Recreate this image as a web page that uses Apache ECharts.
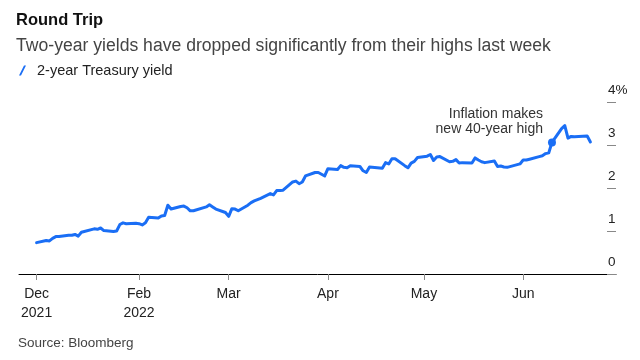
<!DOCTYPE html>
<html>
<head>
<meta charset="utf-8">
<script src="https://cdn.jsdelivr.net/npm/echarts@6/dist/echarts.min.js"></script>
<style>html,body{margin:0;padding:0;background:#fff}#c{width:640px;height:360px}</style>
</head>
<body>
<div id="c"></div>
<script>
const dates = [
 '2021-12-31',
 '2022-01-03','2022-01-04','2022-01-05','2022-01-06','2022-01-07','2022-01-10','2022-01-11','2022-01-12','2022-01-13','2022-01-14',
 '2022-01-18','2022-01-19','2022-01-20','2022-01-21','2022-01-24','2022-01-25','2022-01-26','2022-01-27','2022-01-28','2022-01-31',
 '2022-02-01','2022-02-02','2022-02-03','2022-02-04','2022-02-07','2022-02-08','2022-02-09','2022-02-10','2022-02-11','2022-02-14',
 '2022-02-15','2022-02-16','2022-02-17','2022-02-18','2022-02-22','2022-02-23','2022-02-24','2022-02-25','2022-02-28',
 '2022-03-01','2022-03-02','2022-03-03','2022-03-04','2022-03-07','2022-03-08','2022-03-09','2022-03-10','2022-03-11','2022-03-14',
 '2022-03-15','2022-03-16','2022-03-17','2022-03-18','2022-03-21','2022-03-22','2022-03-23','2022-03-24','2022-03-25','2022-03-28',
 '2022-03-29','2022-03-30','2022-03-31',
 '2022-04-01','2022-04-04','2022-04-05','2022-04-06','2022-04-07','2022-04-08','2022-04-11','2022-04-12','2022-04-13','2022-04-14',
 '2022-04-18','2022-04-19','2022-04-20','2022-04-21','2022-04-22','2022-04-25','2022-04-26','2022-04-27','2022-04-28','2022-04-29',
 '2022-05-02','2022-05-03','2022-05-04','2022-05-05','2022-05-06','2022-05-09','2022-05-10','2022-05-11','2022-05-12','2022-05-13',
 '2022-05-16','2022-05-17','2022-05-18','2022-05-19','2022-05-20','2022-05-23','2022-05-24','2022-05-25','2022-05-26','2022-05-27',
 '2022-05-31',
 '2022-06-01','2022-06-02','2022-06-03','2022-06-06','2022-06-07','2022-06-08','2022-06-09','2022-06-10','2022-06-13','2022-06-14',
 '2022-06-15','2022-06-16','2022-06-17','2022-06-21','2022-06-22'
];
const yields = [
 0.73,
 0.78,0.77,0.83,0.87,0.87,0.90,0.90,0.92,0.88,0.97,
 1.05,1.04,1.07,1.01,0.99,1.00,1.15,1.19,1.17,1.18,
 1.17,1.14,1.19,1.32,1.30,1.35,1.36,1.60,1.51,1.57,
 1.58,1.54,1.47,1.47,1.56,1.61,1.56,1.51,1.43,
 1.34,1.52,1.51,1.47,1.60,1.66,1.70,1.73,1.76,1.87,
 1.84,1.94,1.94,1.95,2.14,2.16,2.10,2.14,2.28,2.36,
 2.36,2.32,2.28,
 2.45,2.43,2.52,2.48,2.47,2.52,2.50,2.40,2.36,2.49,
 2.46,2.59,2.56,2.68,2.68,2.52,2.47,2.58,2.62,2.71,
 2.74,2.78,2.64,2.72,2.73,2.61,2.62,2.66,2.58,2.59,
 2.58,2.70,2.65,2.61,2.59,2.63,2.50,2.51,2.49,2.48,
 2.56,
 2.65,2.65,2.67,2.73,2.75,2.80,2.82,3.06,3.38,3.45,
 3.16,3.20,3.19,3.21,3.07
];
const tickDates = ['2021-12-31','2022-02-01','2022-03-01','2022-04-01','2022-05-01','2022-06-01'];
const tickLabels = ['Dec\n2021','Feb\n2022','Mar','Apr','May','Jun'];
const yTicks = [0,1,2,3,4];
const eventDate = '2022-06-10';
const eventValue = 3.06;
const eventText = 'Inflation makes\nnew 40-year high';

function ts(s){const p=s.split('-').map(Number);return new Date(p[0],p[1]-1,p[2]).getTime();}
const tickTs = tickDates.map(ts);
const seriesData = dates.map((d,i)=>[ts(d), yields[i]]);
const FONT = "'Liberation Sans', Arial, sans-serif";
const BLUE = '#1a6ef5';

const chart = echarts.init(document.getElementById('c'), null, {renderer:'canvas'});
chart.setOption({
  animation:false,
  textStyle:{fontFamily:FONT},
  title:{
    text:'Round Trip',
    subtext:'Two-year yields have dropped significantly from their highs last week',
    left:16, top:12, padding:0, itemGap:8,
    textStyle:{fontSize:16.5, fontWeight:'bold', color:'#111', fontFamily:FONT},
    subtextStyle:{fontSize:17.6, color:'#444', fontFamily:FONT}
  },
  legend:{
    data:['2-year Treasury yield'],
    left:19, top:63, padding:0,
    icon:'path://M0,10 L2,10 L7,0 L5,0 Z',
    itemWidth:7, itemHeight:12, itemGap:6,
    textStyle:{fontSize:14.5, color:'#222', fontFamily:FONT, padding:[0,0,0,6]}
  },
  grid:{left:19, right:24, top:102, bottom:86, containLabel:false},
  xAxis:{
    type:'value',
    min:ts('2021-12-25')+12*3600*1000,
    max:ts('2022-06-30'),
    axisLine:{show:true, lineStyle:{color:'#000', width:1}},
    axisTick:{show:true, customValues:tickTs, length:6, lineStyle:{color:'#888'}},
    axisLabel:{
      customValues:tickTs,
      formatter:function(v){const i=tickTs.indexOf(v);return i>=0?tickLabels[i]:'';},
      color:'#222', fontSize:14, lineHeight:19, margin:11, fontFamily:FONT
    },
    splitLine:{show:false}
  },
  yAxis:{
    type:'value', position:'right', min:0, max:4, interval:1,
    axisLine:{show:false},
    axisTick:{show:true, inside:true, length:9, lineStyle:{color:'#888'}},
    axisLabel:{
      formatter:function(v){return v===4?'4%':String(v);},
      color:'#222', fontSize:13.5, margin:-8, align:'left', verticalAlign:'bottom',
      padding:[0,0,5,0], fontFamily:FONT
    },
    splitLine:{show:false}
  },
  series:[{
    name:'2-year Treasury yield',
    type:'line',
    data:seriesData,
    showSymbol:false,
    symbol:'none',
    lineStyle:{color:BLUE, width:3, join:'round', cap:'round'},
    itemStyle:{color:BLUE},
    markPoint:{
      symbol:'circle', symbolSize:8,
      itemStyle:{color:BLUE},
      data:[{coord:[ts(eventDate), eventValue]}],
      label:{
        show:true, formatter:eventText, position:[-5,-17],
        align:'right', verticalAlign:'middle',
        color:'#333', fontSize:14, lineHeight:15, fontFamily:FONT
      }
    }
  }],
  graphic:[{
    type:'text', left:18, top:336,
    style:{text:'Source: Bloomberg', fontSize:13.5, fill:'#444', fontFamily:FONT}
  }]
});
</script>
</body>
</html>
